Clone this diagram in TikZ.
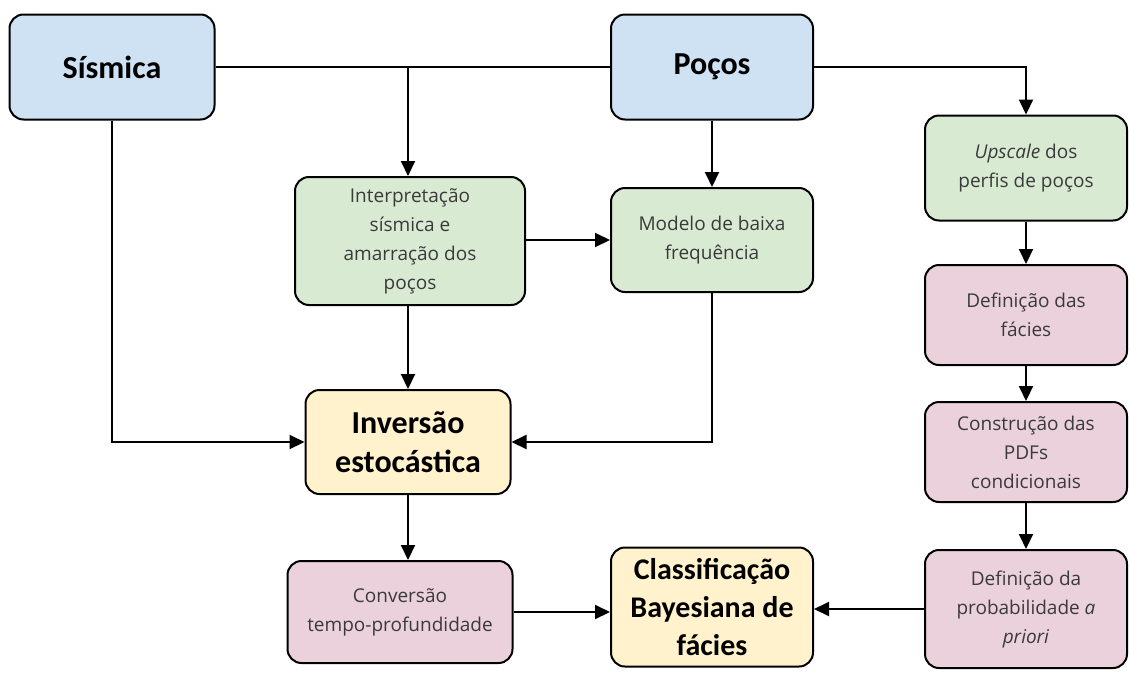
\documentclass[tikz,border=0pt]{standalone}
\usepackage{fontspec}
\setmainfont{Carlito}
\newfontfamily\smallfont{Open Sans}
\usetikzlibrary{arrows.meta}
\definecolor{cblue}{HTML}{CFE2F3}
\definecolor{cgreen}{HTML}{D9EAD3}
\definecolor{cpink}{HTML}{EAD1DC}
\definecolor{cyellow}{HTML}{FFF2CC}
\definecolor{ctext}{HTML}{3A3A3A}
\tikzset{
  box/.style={draw=black, line width=2pt, rounded corners=14pt, align=center, inner sep=0pt},
  small/.style={box, text=ctext, font=\smallfont\fontsize{19}{29}\selectfont},
  big/.style={box, text=black, font=\bfseries\fontsize{32}{39}\selectfont},
  conn/.style={line width=2pt, draw=black},
  arr/.style={conn, -{Triangle[length=15pt,width=14pt]}}
}
\begin{document}
\begin{tikzpicture}[x=1pt,y=-1pt]
\useasboundingbox (0,0) rectangle (1129,675);
\node[big, fill=cblue, minimum width=205pt, minimum height=105pt] (sis) at (112,67) {S\'ismica};
\node[big, fill=cblue, minimum width=202pt, minimum height=105pt] (poc) at (712,67) {Po\c{c}os};
\node[small, fill=cgreen, minimum width=230pt, minimum height=128pt] (int) at (410,241) {Interpreta\c{c}\~ao\\s\'ismica e\\amarra\c{c}\~ao dos\\po\c{c}os};
\node[small, fill=cgreen, minimum width=202pt, minimum height=104pt] (mod) at (712,240) {Modelo de baixa\\frequ\^encia};
\node[small, fill=cgreen, minimum width=202pt, minimum height=105pt] (ups) at (1026,168) {\textit{Upscale} dos\\perfis de po\c{c}os};
\node[small, fill=cpink, minimum width=202pt, minimum height=100pt] (fac) at (1026,315) {Defini\c{c}\~ao das\\f\'acies};
\node[small, fill=cpink, minimum width=202pt, minimum height=100pt] (pdf) at (1026,452) {Constru\c{c}\~ao das\\PDFs\\condicionais};
\node[small, fill=cpink, minimum width=202pt, minimum height=118pt] (pri) at (1026,609) {Defini\c{c}\~ao da\\probabilidade \textit{a}\\\textit{priori}};
\node[big, fill=cyellow, minimum width=205pt, minimum height=104pt] (inv) at (408,442) {Invers\~ao\\estoc\'astica};
\node[small, fill=cpink, minimum width=225pt, minimum height=102pt] (con) at (400,612) {Convers\~ao\\tempo-profundidade};
\node[big, fill=cyellow, minimum width=202pt, minimum height=119pt, font=\bfseries\fontsize{30}{38}\selectfont] (cla) at (712,607) {Classifica\c{c}\~ao\\Bayesiana de\\f\'acies};
\coordinate (j1) at (408,67);
\draw[conn] (sis.east) -- (poc.west);
\draw[arr] (j1) -- (j1 |- int.north);
\draw[arr] (sis.south) |- (inv.west);
\draw[arr] (poc.south) -- (poc.south |- mod.north);
\draw[arr] (poc.east) -| (ups.north);
\draw[arr] (int.east |- mod.west) -- (mod.west);
\draw[arr] (int.south -| j1) -- (j1 |- inv.north);
\draw[arr] (mod.south) |- (inv.east);
\draw[arr] (inv.south -| j1) -- (j1 |- con.north);
\draw[arr] (con.east) -- (con.east -| cla.west);
\draw[arr] (ups.south) -- (fac.north);
\draw[arr] (fac.south) -- (pdf.north);
\draw[arr] (pdf.south) -- (pri.north);
\draw[arr] (pri.west) -- (pri.west -| cla.east);
\end{tikzpicture}
\end{document}
